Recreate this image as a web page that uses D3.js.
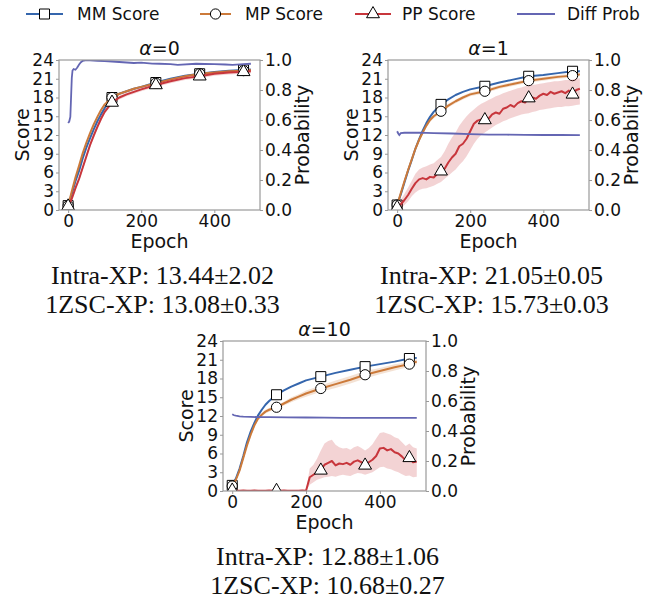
<!DOCTYPE html>
<html>
<head>
<meta charset="utf-8">
<script src="https://cdn.jsdelivr.net/npm/d3@7/dist/d3.min.js"></script>
<style>
    body { margin: 0; background: #fff; }
    svg { display: block; }
    .tick text { font-family: "DejaVu Sans", sans-serif; font-size: 17px; fill: #111; }
    .tick line { stroke: #999; }
    .axisLabel { font-family: "DejaVu Sans", sans-serif; font-size: 19px; fill: #111; }
    .panelTitle { font-family: "DejaVu Sans", sans-serif; font-size: 19px; fill: #111; }
    .legendText { font-family: "DejaVu Sans", sans-serif; font-size: 17px; fill: #111; }
    .xpText { font-family: "Liberation Serif", "Times New Roman", serif; font-size: 26px; fill: #111; }
</style>
</head>
<body>
<div id="chart"></div>
<script>
// ----- DATA ---------------------------------------------------------
const alphaLabels = ["0", "1", "10"];
const scoreTicks = [0, 3, 6, 9, 12, 15, 18, 21, 24];
const probTicks = [0.0, 0.2, 0.4, 0.6, 0.8, 1.0];
const epochTicks = [0, 200, 400];
const markerEpochs = [0, 120, 240, 360, 480];

const seriesNames = ["MM Score", "MP Score", "PP Score", "Diff Prob"];

const intraXP = ["Intra-XP: 13.44\u00b12.02", "Intra-XP: 21.05\u00b10.05", "Intra-XP: 12.88\u00b11.06"];
const zscXP = ["1ZSC-XP: 13.08\u00b10.33", "1ZSC-XP: 15.73\u00b10.03", "1ZSC-XP: 10.68\u00b10.27"];

// smooth score curves share this epoch grid
const epochsCoarse = [0, 10, 20, 30, 40, 50, 60, 70, 80, 90, 100, 120, 140, 160, 180, 200, 240, 280, 320, 360, 400, 440, 480, 500];
// noisy curves use a finer one
const epochsFine = [0, 10, 20, 30, 40, 50, 60, 70, 80, 90, 100, 110, 120, 130, 140, 150, 160, 170, 180, 190,
    200, 210, 220, 230, 240, 250, 260, 270, 280, 290, 300, 310, 320, 330, 340, 350, 360, 370, 380, 390,
    400, 410, 420, 430, 440, 450, 460, 470, 480, 490, 500];

// alpha = 0
const mmA0 = [0.7, 2.6, 4.6, 6.3, 8.3, 10.0, 11.5, 12.9, 14.2, 15.3, 16.3, 18.0, 18.6, 19.0, 19.4, 19.7, 20.4, 21.0, 21.5, 21.8, 22.1, 22.3, 22.4, 22.5];
const mpA0 = [0.7, 3.0, 5.2, 7.1, 9.1, 10.8, 12.3, 13.7, 14.9, 16.0, 16.9, 18.0, 18.6, 19.0, 19.4, 19.7, 20.3, 20.9, 21.4, 21.8, 22.0, 22.2, 22.3, 22.4];
const ppA0 = [0.6, 1.8, 3.5, 5.0, 6.8, 8.6, 10.4, 11.9, 13.3, 14.6, 15.7, 17.2, 18.0, 18.5, 18.9, 19.3, 20.0, 20.6, 21.1, 21.4, 21.8, 22.0, 22.1, 22.2];
const ppSdA0 = [0.2, 0.3, 0.4, 0.4, 0.4, 0.4, 0.4, 0.4, 0.4, 0.4, 0.3, 0.3, 0.3, 0.3, 0.3, 0.3, 0.3, 0.3, 0.3, 0.3, 0.3, 0.3, 0.3, 0.3];
const diffEpochsA0 = [0, 3, 6, 8, 10, 12, 15, 20, 25, 30, 35, 40, 50, 60, 80, 100, 120, 150, 180, 200, 230, 250, 280, 300, 350, 400, 430, 450, 480, 500];
const diffA0 = [0.58, 0.59, 0.62, 0.75, 0.88, 0.93, 0.94, 0.935, 0.95, 0.97, 0.985, 0.995, 1.0, 0.998, 0.995, 0.993, 0.99, 0.985, 0.98, 0.982, 0.976, 0.975, 0.972, 0.968, 0.975, 0.972, 0.97, 0.968, 0.972, 0.975];

// alpha = 1
const mmA1 = [0.8, 2.5, 4.4, 6.3, 8.0, 9.8, 11.3, 12.7, 13.9, 14.9, 15.7, 16.9, 17.7, 18.4, 18.9, 19.3, 19.8, 20.4, 20.9, 21.4, 21.6, 21.9, 22.2, 22.2];
const mpA1 = [0.8, 2.7, 4.6, 6.4, 8.1, 9.8, 11.2, 12.4, 13.5, 14.4, 15.0, 15.8, 16.7, 17.4, 18.0, 18.5, 19.0, 19.7, 20.2, 20.7, 21.0, 21.3, 21.5, 21.7];
const mpSdA1 = [0.1, 0.2, 0.3, 0.3, 0.3, 0.3, 0.3, 0.3, 0.3, 0.3, 0.3, 0.3, 0.3, 0.3, 0.3, 0.3, 0.3, 0.3, 0.3, 0.3, 0.3, 0.3, 0.3, 0.3];
const ppA1 = [0.4, 0.9, 1.6, 2.4, 3.4, 4.3, 4.9, 5.1, 4.9, 5.3, 5.2, 5.8, 6.2, 6.6, 7.6, 8.4, 9.0, 10.2, 10.6, 11.4,
    12.6, 13.8, 14.3, 14.5, 14.4, 14.6, 15.3, 15.6, 15.4, 16.2, 16.4, 16.8, 16.5, 17.1, 17.4, 17.2, 17.9, 18.0, 17.8, 18.3,
    18.6, 18.4, 18.9, 18.6, 18.8, 19.0, 18.7, 19.1, 18.5, 19.2, 19.4];
const ppLowA1 = [0.0, 0.3, 0.8, 1.4, 2.2, 2.8, 3.2, 3.4, 3.5, 3.7, 3.9, 4.2, 4.5, 5.0, 5.5, 6.0, 6.5, 7.2, 7.8, 8.6,
    9.6, 10.6, 11.4, 12.0, 12.4, 12.8, 13.2, 13.6, 13.9, 14.2, 14.4, 14.7, 14.9, 15.1, 15.3, 15.4, 15.5, 15.7, 15.8, 16.0,
    16.1, 16.2, 16.3, 16.4, 16.5, 16.5, 16.6, 16.6, 16.7, 16.8, 16.9];
const ppHighA1 = [0.9, 1.6, 2.6, 3.6, 4.7, 5.8, 6.5, 6.8, 7.0, 7.3, 7.5, 8.0, 8.5, 9.4, 10.6, 11.6, 12.4, 13.5, 14.3, 15.0,
    15.6, 16.1, 16.6, 17.0, 17.3, 17.6, 17.9, 18.2, 18.4, 18.7, 18.9, 19.1, 19.3, 19.5, 19.6, 19.8, 19.9, 20.0, 20.1, 20.2,
    20.3, 20.4, 20.5, 20.6, 20.6, 20.7, 20.8, 20.8, 20.9, 21.0, 21.1];
const diffEpochsA1 = [0, 3, 6, 10, 20, 40, 60, 80, 100, 150, 200, 250, 300, 350, 400, 450, 500];
const diffA1 = [0.525, 0.51, 0.50, 0.512, 0.515, 0.516, 0.515, 0.514, 0.513, 0.51, 0.506, 0.503, 0.502, 0.501, 0.50, 0.501, 0.499];

// alpha = 10
const mmA10 = [0.9, 2.0, 3.6, 5.6, 7.8, 9.5, 10.9, 12.1, 13.0, 13.8, 14.4, 15.4, 16.1, 16.7, 17.2, 17.7, 18.3, 18.9, 19.4, 19.9, 20.3, 20.7, 21.2, 21.3];
const mpA10 = [0.8, 1.8, 3.3, 5.3, 7.3, 9.0, 10.5, 11.6, 12.2, 12.7, 13.0, 13.4, 14.0, 14.6, 15.1, 15.6, 16.4, 17.1, 17.8, 18.6, 19.2, 19.8, 20.3, 20.7];
const mpSdA10 = [0.1, 0.2, 0.3, 0.3, 0.3, 0.3, 0.3, 0.3, 0.3, 0.3, 0.3, 0.3, 0.3, 0.4, 0.4, 0.5, 0.5, 0.6, 0.6, 0.6, 0.5, 0.5, 0.4, 0.4];
const ppA10 = [0.1, 0.05, 0.05, 0.1, 0.05, 0.05, 0.1, 0.05, 0.05, 0.05, 0.1, 0.05, 0.05, 0.05, 0.1, 0.05, 0.05, 0.05, 0.05, 0.1,
    0.05, 2.2, 2.6, 3.0, 3.3, 4.2, 4.5, 4.8, 4.1, 4.4, 4.3, 4.5, 4.2, 4.7, 4.9, 4.6, 4.1, 4.6, 5.0, 5.6,
    6.8, 6.9, 6.5, 6.7, 6.2, 6.0, 5.5, 4.9, 5.3, 4.6, 4.7];
const ppLowA10 = [0, 0, 0, 0, 0, 0, 0, 0, 0, 0, 0, 0, 0, 0, 0, 0, 0, 0, 0, 0,
    0, 1.0, 1.4, 1.8, 2.0, 2.2, 2.3, 2.4, 2.3, 2.5, 2.6, 2.5, 2.4, 2.7, 2.9, 2.8, 2.6, 2.8, 3.0, 3.4,
    3.8, 3.9, 3.6, 3.5, 3.2, 3.0, 2.7, 2.4, 2.5, 2.2, 2.3];
const ppHighA10 = [0.1, 0.1, 0.1, 0.1, 0.1, 0.1, 0.1, 0.1, 0.1, 0.1, 0.1, 0.1, 0.1, 0.1, 0.1, 0.1, 0.1, 0.1, 0.1, 0.1,
    0.1, 3.6, 4.2, 5.2, 6.5, 7.6, 8.0, 8.2, 7.4, 7.0, 6.8, 6.9, 6.6, 7.0, 7.2, 6.9, 6.5, 6.9, 7.5, 8.4,
    9.3, 9.4, 9.2, 9.0, 8.6, 8.4, 7.8, 7.2, 7.6, 7.0, 6.8];
const diffEpochsA10 = [0, 5, 10, 20, 30, 50, 80, 100, 150, 200, 250, 300, 350, 400, 450, 500];
const diffA10 = [0.512, 0.505, 0.502, 0.498, 0.496, 0.494, 0.492, 0.492, 0.491, 0.49, 0.489, 0.488, 0.488, 0.487, 0.487, 0.487];

// ----- STYLE / LAYOUT ------------------------------------------------
const width = 652, height = 601;
const colours = { mm: "#3566ad", mp: "#cc7a3a", pp: "#c8363c", diff: "#6466b3" };

const panelBoxes = [
    { left: 59, top: 60, w: 201, h: 150 },
    { left: 388, top: 60, w: 201, h: 150 },
    { left: 223, top: 341, w: 203, h: 150 }
];

function zip(xs, ys) { return xs.map((x, i) => [x, ys[i]]); }

const panels = [
    {
        mm: { pts: zip(epochsCoarse, mmA0) },
        mp: { pts: zip(epochsCoarse, mpA0) },
        pp: { pts: zip(epochsCoarse, ppA0), band: epochsCoarse.map((e, i) => [e, ppA0[i] - ppSdA0[i], ppA0[i] + ppSdA0[i]]) },
        diff: zip(diffEpochsA0, diffA0)
    },
    {
        mm: { pts: zip(epochsCoarse, mmA1) },
        mp: { pts: zip(epochsCoarse, mpA1), band: epochsCoarse.map((e, i) => [e, mpA1[i] - mpSdA1[i], mpA1[i] + mpSdA1[i]]) },
        pp: { pts: zip(epochsFine, ppA1), band: epochsFine.map((e, i) => [e, ppLowA1[i], ppHighA1[i]]) },
        diff: zip(diffEpochsA1, diffA1)
    },
    {
        mm: { pts: zip(epochsCoarse, mmA10) },
        mp: { pts: zip(epochsCoarse, mpA10), band: epochsCoarse.map((e, i) => [e, mpA10[i] - mpSdA10[i], mpA10[i] + mpSdA10[i]]) },
        pp: { pts: zip(epochsFine, ppA10), band: epochsFine.map((e, i) => [e, ppLowA10[i], ppHighA10[i]]) },
        diff: zip(diffEpochsA10, diffA10)
    }
];

const svg = d3.select("#chart").append("svg")
    .attr("width", width)
    .attr("height", height);

// marker shapes: white fill, black edge
function markerPath(kind) {
    if (kind === "mm") return d3.symbol(d3.symbolSquare, 100)();
    if (kind === "mp") return d3.symbol(d3.symbolCircle, 82)();
    return d3.symbol(d3.symbolTriangle, 72)();
}

function drawPanel(p, box, idx) {
    const g = svg.append("g").attr("transform", "translate(" + box.left + "," + box.top + ")");

    const x = d3.scaleLinear().domain([-25, 525]).range([0, box.w]);
    const y = d3.scaleLinear().domain([0, 24]).range([box.h, 0]);
    const yProb = d3.scaleLinear().domain([0, 1]).range([box.h, 0]);

    const clipId = "clip" + idx;
    g.append("clipPath").attr("id", clipId)
        .append("rect").attr("width", box.w).attr("height", box.h);

    const plot = g.append("g").attr("clip-path", "url(#" + clipId + ")");

    const line = d3.line().x(d => x(d[0])).y(d => y(d[1]));
    const area = d3.area().x(d => x(d[0])).y0(d => y(d[1])).y1(d => y(d[2]));

    ["mm", "mp", "pp"].forEach(key => {
        const s = p[key];
        if (s.band) {
            plot.append("path")
                .attr("d", area(s.band))
                .attr("fill", colours[key])
                .attr("fill-opacity", 0.22);
        }
        plot.append("path")
            .attr("d", line(s.pts))
            .attr("fill", "none")
            .attr("stroke", colours[key])
            .attr("stroke-width", 2)
            .attr("stroke-linejoin", "round");

        const lookup = new Map(s.pts);
        plot.selectAll(".mk-" + key)
            .data(markerEpochs)
            .enter()
            .append("path")
            .attr("class", "mk-" + key)
            .attr("d", markerPath(key))
            .attr("transform", e => "translate(" + x(e) + "," + y(lookup.get(e)) + ")")
            .attr("fill", "#fff")
            .attr("stroke", "#000")
            .attr("stroke-width", 1);
    });

    // difference probability on the twin axis
    const probLine = d3.line().x(d => x(d[0])).y(d => yProb(d[1]));
    plot.append("path")
        .attr("d", probLine(p.diff))
        .attr("fill", "none")
        .attr("stroke", colours.diff)
        .attr("stroke-width", 1.8);

    // axes
    const leftAxis = g.append("g")
        .call(d3.axisLeft(y).tickValues(scoreTicks).tickSize(3).tickPadding(2));
    const rightAxis = g.append("g")
        .attr("transform", "translate(" + box.w + ",0)")
        .call(d3.axisRight(yProb).tickValues(probTicks).tickFormat(d3.format(".1f")).tickSize(3).tickPadding(2));
    const bottomAxis = g.append("g")
        .attr("transform", "translate(0," + box.h + ")")
        .call(d3.axisBottom(x).tickValues(epochTicks).tickSize(3).tickPadding(2));
    [leftAxis, rightAxis, bottomAxis].forEach(a => {
        a.select(".domain").remove();
        a.selectAll(".tick text").attr("font-family", null).attr("font-size", null);
    });

    // spines
    g.append("rect")
        .attr("width", box.w)
        .attr("height", box.h)
        .attr("fill", "none")
        .attr("stroke", "#9a9a9a")
        .attr("stroke-width", 1.2);

    // labels
    g.append("text")
        .attr("class", "axisLabel")
        .attr("text-anchor", "middle")
        .attr("x", box.w / 2)
        .attr("y", box.h + 38)
        .text("Epoch");

    g.append("text")
        .attr("class", "axisLabel")
        .attr("text-anchor", "middle")
        .attr("transform", "translate(-30," + (box.h / 2) + ") rotate(-90)")
        .text("Score");

    g.append("text")
        .attr("class", "axisLabel")
        .attr("text-anchor", "middle")
        .attr("transform", "translate(" + (box.w + 49) + "," + (box.h / 2) + ") rotate(-90)")
        .text("Probability");

    const title = g.append("text")
        .attr("class", "panelTitle")
        .attr("text-anchor", "middle")
        .attr("x", box.w / 2)
        .attr("y", -5);
    title.append("tspan").attr("font-style", "italic").text("\u03b1");
    title.append("tspan").text("=" + alphaLabels[idx]);

    // cross-play results under the panel
    g.append("text")
        .attr("class", "xpText")
        .attr("text-anchor", "middle")
        .attr("x", box.w / 2 + 3)
        .attr("y", box.h + 74)
        .text(intraXP[idx]);
    g.append("text")
        .attr("class", "xpText")
        .attr("text-anchor", "middle")
        .attr("x", box.w / 2 + 3)
        .attr("y", box.h + 103)
        .text(zscXP[idx]);
}

panels.forEach((p, i) => drawPanel(p, panelBoxes[i], i));

// ----- LEGEND --------------------------------------------------------
const legendItems = [
    { key: "mm", x0: 26, x1: 63, tx: 77 },
    { key: "mp", x0: 200, x1: 231, tx: 245 },
    { key: "pp", x0: 355, x1: 391, tx: 402 },
    { key: "diff", x0: 517, x1: 555, tx: 567 }
];
const legend = svg.append("g").attr("transform", "translate(0,14)");
legendItems.forEach((it, i) => {
    legend.append("line")
        .attr("x1", it.x0).attr("x2", it.x1)
        .attr("y1", 0).attr("y2", 0)
        .attr("stroke", colours[it.key])
        .attr("stroke-width", 2);
    if (it.key !== "diff") {
        legend.append("path")
            .attr("d", markerPath(it.key))
            .attr("transform", "translate(" + ((it.x0 + it.x1) / 2) + ",0)")
            .attr("fill", "#fff")
            .attr("stroke", "#000")
            .attr("stroke-width", 1);
    }
    legend.append("text")
        .attr("class", "legendText")
        .attr("x", it.tx)
        .attr("y", 6)
        .text(seriesNames[i]);
});
</script>
</body>
</html>
